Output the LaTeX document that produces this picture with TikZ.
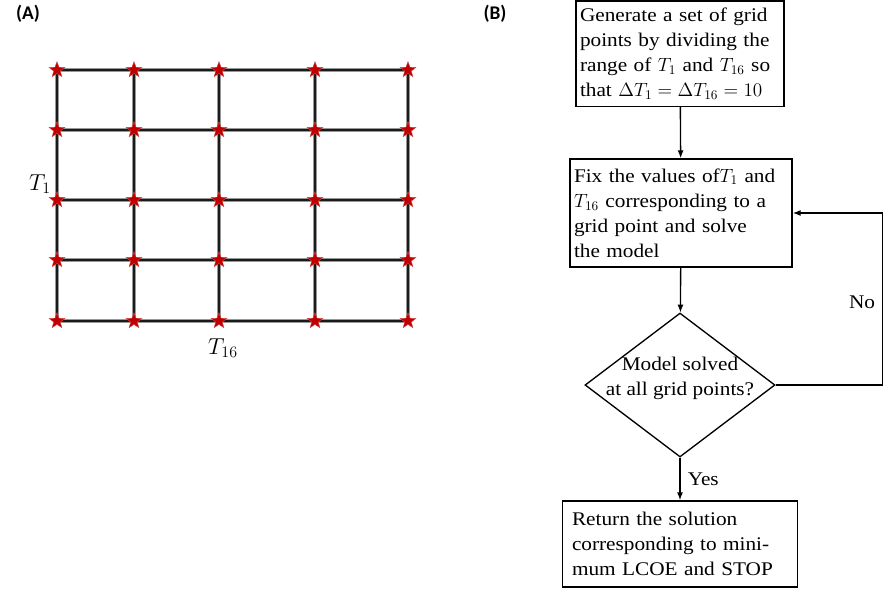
\documentclass[tikz,border=0pt]{standalone}
\usepackage{amsmath}
\usepackage{fontspec}
\setmainfont{Liberation Serif}[FakeStretch=1.1]
\setsansfont{Carlito}
\usepackage{tikz}
\usetikzlibrary{arrows.meta,calc,positioning,shapes.geometric}
\definecolor{gridred}{HTML}{C00000}
\definecolor{gridline}{HTML}{1A1A1A}
\definecolor{flowdark}{HTML}{000000}

\tikzset{
  panel/.style={font=\sffamily\bfseries\fontsize{14.5}{16}\selectfont,anchor=center},
  gridpt/.style={star,star points=5,star point ratio=2.4,fill=gridred,
    draw=gridred!70,line width=0.3pt,minimum size=12.5pt,inner sep=0pt},
  stepbox/.style={draw=flowdark,line width=1pt,align=left,inner sep=3pt,
    font=\fontsize{14.5}{18.8}\selectfont},
  decision/.style={diamond,draw=flowdark,line width=1pt,inner sep=0pt,
    minimum width=142.5pt,minimum height=108pt},
  flow/.style={-{Latex[length=6pt,width=4.5pt]},flowdark,line width=1pt},
  lbl/.style={font=\fontsize{14.5}{18.8}\selectfont,text=flowdark},
  axlbl/.style={font=\fontsize{17}{20}\selectfont,text=flowdark}
}

\begin{document}
\begin{tikzpicture}[x=0.75pt,y=-0.75pt]
\useasboundingbox (0,0) rectangle (883,590);

% ── Panel labels ────────────────────────────────────────────────
\node[panel] (lblA) at (28,14) {(A)};
\node[panel] (lblB) at (495,14) {(B)};

% ── (A) Grid of (T16, T1) points ────────────────────────────────
\draw[gridline!45,line width=3.6pt] (57,70) -- (408,70) (57,130) -- (408,130)
  (57,200) -- (408,200) (57,260) -- (408,260) (57,321) -- (408,321);
\draw[gridline!45,line width=3.6pt] (57,70) -- (57,321) (134,70) -- (134,321)
  (219,70) -- (219,321) (315,70) -- (315,321) (408,70) -- (408,321);
\foreach \gy in {70,130,200,260,321}
  \draw[gridline,line width=2pt] (57,\gy) -- (408,\gy);
\foreach \gx in {57,134,219,315,408}
  \draw[gridline,line width=2pt] (\gx,70) -- (\gx,321);
% Grid points
\foreach \gx in {57,134,219,315,408}
  \foreach \gy in {70,130,200,260,321}
    \node[gridpt] at (\gx,\gy) {};
% Axis labels
\node[axlbl] (axT1) at (40,184) {$T_1$};
\node[axlbl] (axT16) at (223,348) {$T_{16}$};

% ── (B) Flow chart ──────────────────────────────────────────────
\node[stepbox,text width=150pt,minimum height=79pt] (gen) at (680,53.5)
 {Generate a set of grid\\points by dividing the\\range of $T_1$ and $T_{16}$ so\\that $\Delta T_1=\Delta T_{16}=10$};
\node[stepbox,text width=160.5pt,minimum height=81pt] (fix) at (681,213)
 {Fix the values of$T_1$ and\\$T_{16}$ corresponding to a\\grid point and solve\\the model};
\node[decision] (check) at (680,385) {};
\node[lbl,align=center] (checktxt) at (680,378) {Model solved\\at all grid points?};
\node[stepbox,inner sep=7pt,text width=162pt,minimum height=64.5pt] (ret) at (680,544)
 {Return the solution\\corresponding to mini-\\mum LCOE and STOP};

% Connectors
\draw[flow] (gen) -- (fix);
\draw[flow] (fix) -- (check);
\draw[flow] (check) -- node[lbl,right=2pt] {Yes} (ret);
\coordinate (loop) at (883,385);
\draw[flow] (check.east) -- (loop) |- (fix.east);
\node[lbl] (no) at (862,302) {No};
\end{tikzpicture}
\end{document}
